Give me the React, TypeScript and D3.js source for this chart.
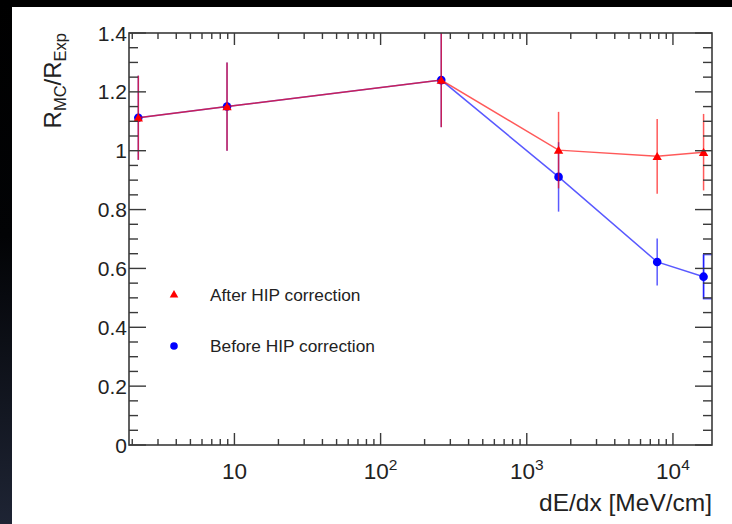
import React from "react";
import * as d3 from "d3";

const dEdx = [2.2, 8.9, 260, 1650, 7800, 16200];
const afterVals = [1.112, 1.15, 1.24, 1.002, 0.981, 0.995];
const afterErrs = [0.143, 0.15, 0.16, 0.13, 0.127, 0.13];
const beforeVals = [1.112, 1.15, 1.24, 0.911, 0.622, 0.572];
const beforeErrs = [0.143, 0.15, 0.16, 0.118, 0.08, 0.075];
const yTicks = [0, 0.2, 0.4, 0.6, 0.8, 1, 1.2, 1.4];
const yTickLabels = ["0", "0.2", "0.4", "0.6", "0.8", "1", "1.2", "1.4"];
const xMajor = [10, 100, 1000, 10000];
const xMajorBase = ["10", "10", "10", "10"];
const xMajorExp = ["", "2", "3", "4"];
const legendLabels = ["After HIP correction", "Before HIP correction"];

const W = 732, H = 524;
const L = 129, R = 712, T = 33, B = 445;
const FONT = "'Liberation Sans', Arial, Helvetica, sans-serif";

export default function App() {
  const x = d3.scaleLog().domain([1.9, 18500]).range([L, R]);
  const y = d3.scaleLinear().domain([0, 1.4]).range([B, T]);

  const xMinor: number[] = [];
  for (let e = 0; e <= 4; e++) {
    for (let m = 2; m <= 9; m++) {
      const v = m * Math.pow(10, e);
      if (v > 1.9 && v < 18500 && !xMajor.includes(v)) xMinor.push(v);
    }
  }
  const yMinor = d3.range(0, 1.4001, 0.05).filter((v) => Math.abs(v / 0.2 - Math.round(v / 0.2)) > 1e-6);

  const line = d3
    .line<number>()
    .x((_, i) => x(dEdx[i]))
    .y((d) => y(d));

  const tri = d3.symbol(d3.symbolTriangle, 38)()!;
  const triLeg = d3.symbol(d3.symbolTriangle, 32)()!;

  const series = [
    { vals: beforeVals, errs: beforeErrs, color: "#0000ff", kind: "circle" },
    { vals: afterVals, errs: afterErrs, color: "#ff0000", kind: "tri" },
  ];

  const last = dEdx.length - 1;
  const axisColor = "#3a3a3a";

  return (
    <svg width={W} height={H} style={{ position: "absolute", left: 0, top: 0, display: "block" }}>
      <defs>
        <linearGradient id="leftband" x1="0" y1="0" x2="0" y2="1">
          <stop offset="0" stopColor="#000" />
          <stop offset="0.45" stopColor="#020305" />
          <stop offset="1" stopColor="#1e2434" />
        </linearGradient>
        <clipPath id="plotclip">
          <rect x={L} y={T} width={R - L} height={B - T} />
        </clipPath>
      </defs>
      <rect x={0} y={0} width={W} height={H} fill="#fff" />
      <rect x={0} y={0} width={W} height={7} fill="#000" />
      <rect x={0} y={0} width={12} height={H} fill="url(#leftband)" />

      <g clipPath="url(#plotclip)">
        {series.map((s, si) => (
          <g key={si}>
            {s.vals.map((v, i) => (
              <line
                key={"e" + i}
                x1={x(dEdx[i])}
                x2={x(dEdx[i])}
                y1={y(v - s.errs[i])}
                y2={y(v + s.errs[i])}
                stroke={s.color}
                strokeOpacity={0.65}
                strokeWidth={1.5}
              />
            ))}
            {si === 0 && (
              <rect
                x={x(dEdx[last])}
                y={y(s.vals[last] + s.errs[last])}
                width={x(dEdx[last] * 1.6) - x(dEdx[last])}
                height={y(s.vals[last] - s.errs[last]) - y(s.vals[last] + s.errs[last])}
                fill="none"
                stroke={s.color}
                strokeOpacity={0.65}
                strokeWidth={1.5}
              />
            )}
            <path d={line(s.vals) || ""} fill="none" stroke={s.color} strokeOpacity={0.65} strokeWidth={1.5} />
            {s.vals.map((v, i) =>
              s.kind === "circle" ? (
                <circle key={"m" + i} cx={x(dEdx[i])} cy={y(v)} r={4.3} fill={s.color} />
              ) : (
                <path key={"m" + i} d={tri} transform={`translate(${x(dEdx[i])},${y(v) + 1})`} fill={s.color} />
              )
            )}
          </g>
        ))}
      </g>

      <rect x={L} y={T} width={R - L} height={B - T} fill="none" stroke={axisColor} strokeWidth={1.6} />

      {yTicks.map((t) => (
        <g key={"yt" + t}>
          <line x1={L} x2={L + 17} y1={y(t)} y2={y(t)} stroke={axisColor} strokeWidth={1.4} />
          <line x1={R} x2={R - 17} y1={y(t)} y2={y(t)} stroke={axisColor} strokeWidth={1.4} />
        </g>
      ))}
      {yMinor.map((t) => (
        <g key={"ym" + t}>
          <line x1={L} x2={L + 9} y1={y(t)} y2={y(t)} stroke={axisColor} strokeWidth={1.4} />
          <line x1={R} x2={R - 9} y1={y(t)} y2={y(t)} stroke={axisColor} strokeWidth={1.4} />
        </g>
      ))}
      {xMajor.map((t) => (
        <g key={"xt" + t}>
          <line x1={x(t)} x2={x(t)} y1={B} y2={B - 12} stroke={axisColor} strokeWidth={1.4} />
          <line x1={x(t)} x2={x(t)} y1={T} y2={T + 12} stroke={axisColor} strokeWidth={1.4} />
        </g>
      ))}
      {xMinor.map((t) => (
        <g key={"xm" + t}>
          <line x1={x(t)} x2={x(t)} y1={B} y2={B - 6} stroke={axisColor} strokeWidth={1.4} />
          <line x1={x(t)} x2={x(t)} y1={T} y2={T + 6} stroke={axisColor} strokeWidth={1.4} />
        </g>
      ))}

      {yTicks.map((t, i) => (
        <text
          key={"yl" + t}
          x={L - 2}
          y={y(t) + 7.5}
          textAnchor="end"
          fontFamily={FONT}
          fontSize={21}
          fill="#222"
        >
          {yTickLabels[i]}
        </text>
      ))}
      {xMajor.map((t, i) => (
        <text key={"xl" + t} x={x(t)} y={479} textAnchor="middle" fontFamily={FONT} fontSize={22.5} fill="#222">
          {xMajorBase[i]}
          {xMajorExp[i] && (
            <tspan dy={-9} fontSize={15.5}>
              {xMajorExp[i]}
            </tspan>
          )}
        </text>
      ))}

      <text x={R} y={511} textAnchor="end" fontFamily={FONT} fontSize={24.5} fill="#222">
        dE/dx [MeV/cm]
      </text>
      <text transform={`translate(61,${T}) rotate(-90)`} textAnchor="end" fontFamily={FONT} fontSize={24} fill="#222">
        R<tspan fontSize={16.5} dy={5}>MC</tspan>
        <tspan dy={-5}>/R</tspan>
        <tspan fontSize={16.5} dy={5}>Exp</tspan>
      </text>

      <path d={triLeg} transform="translate(174,295)" fill="#ff0000" />
      <text x={210} y={301} fontFamily={FONT} fontSize={17.3} fill="#222">
        {legendLabels[0]}
      </text>
      <circle cx={174} cy={346} r={3.8} fill="#0000ff" />
      <text x={210} y={352} fontFamily={FONT} fontSize={17.3} fill="#222">
        {legendLabels[1]}
      </text>
    </svg>
  );
}
